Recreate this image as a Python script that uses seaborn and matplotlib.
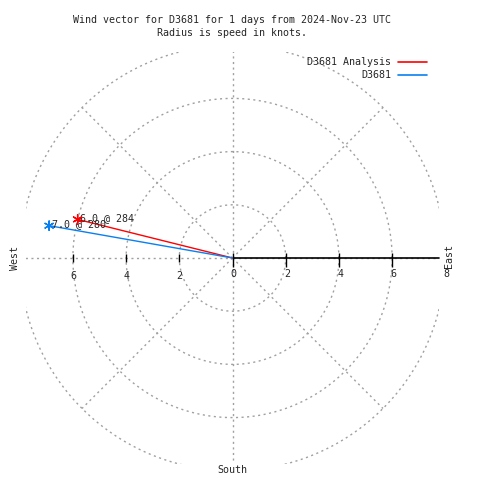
import numpy as np
import pandas as pd
import matplotlib
matplotlib.use("Agg")
import matplotlib.pyplot as plt
import seaborn as sns
from matplotlib.patches import Rectangle

# wind vectors (speed in knots, direction in degrees from north)
series = ["D3681 Analysis", "D3681"]
speed = [6.0, 7.0]
direction = [284, 280]
colors = ["#ff0000", "#0a80f0"]

ring_radii = [2, 4, 6, 8]
spoke_angles = [0, 45, 90, 135, 180, 225, 270, 315]
left_ticks = [-6, -4, -2]
left_labels = ["6", "4", "2"]
right_ticks = [0, 2, 4, 6, 8]
right_labels = ["0", "2", "4", "6", "8"]

sns.set_style("white")
plt.rcParams["font.family"] = ["DejaVu Sans Mono"]

# pixel layout: centre of the rose at (232.5, 258), 26.6 px per knot
px = 26.6
cx, cy = 232.5, 258
lim = 7.75

fig = plt.figure(figsize=(4.8, 4.8), dpi=100)
ax = fig.add_axes([0, 0, 1, 1])
ax.axis("off")

clip = Rectangle((-lim, -lim), 2 * lim, 2 * lim, transform=ax.transData)
grid_kw = dict(color="#a0a0a0", lw=1, dashes=(1.5, 2.5))

# rings and spokes
t = np.linspace(0, 2 * np.pi, 400)
for r in ring_radii:
    ln, = ax.plot(r * np.cos(t), r * np.sin(t), **grid_kw)
    ln.set_clip_path(clip)
rmax = ring_radii[-1]
for a in spoke_angles:
    ang = np.radians(a)
    ln, = ax.plot([0, rmax * np.cos(ang)], [0, rmax * np.sin(ang)], **grid_kw)
    ln.set_clip_path(clip)

# axis line and ticks
ax.plot([0, lim], [0, 0], color="black", lw=1.2)
ax.vlines(left_ticks, -0.15, 0.15, color="black", lw=1)
ax.vlines(right_ticks[:-1], -0.35, 0.18, color="black", lw=1)
for x, s in zip(left_ticks, left_labels):
    ax.text(x, -0.68, s, ha="center", va="center", fontsize=7.2)
for x, s in zip(right_ticks, right_labels):
    ax.text(x + 0.05, -0.62, s, ha="center", va="center", fontsize=7.2)

# vectors
rad = np.radians(direction)
ex = np.array(speed) * np.sin(rad)
ey = np.array(speed) * np.cos(rad)
vec = pd.DataFrame({
    "series": series + series,
    "x": [0, 0] + list(ex),
    "y": [0, 0] + list(ey),
})
ends = pd.DataFrame({"series": series, "x": ex, "y": ey})
pal = dict(zip(series, colors))
sns.lineplot(data=vec, x="x", y="y", hue="series", palette=pal, sort=False,
             estimator=None, lw=1, legend=False, ax=ax)
sns.scatterplot(data=ends, x="x", y="y", hue="series", palette=pal,
                marker=(6, 2, 0), s=45, linewidth=1, legend=False, ax=ax, zorder=5)
for x, y, s, d in zip(ex, ey, speed, direction):
    ax.text(x + 0.1, y + 0.05, f"{s:.1f} @ {d}", ha="left", va="center", fontsize=7.2)

ax.set_xlim(-cx / px, (480 - cx) / px)
ax.set_ylim((cy - 480) / px, cy / px)

# compass labels
fig.text(15 / 480, 1 - 258 / 480, "West", rotation=90, ha="center", va="center", fontsize=7.2)
fig.text(449 / 480, 1 - 256 / 480, "East", rotation=90, ha="center", va="center", fontsize=7.2)
fig.text(232 / 480, 1 - 470 / 480, "South", ha="center", va="center", fontsize=7.2)

# title
fig.text(232 / 480, 1 - 20 / 480, "Wind vector for D3681 for 1 days from 2024-Nov-23 UTC",
         ha="center", va="center", fontsize=7.2)
fig.text(232 / 480, 1 - 33 / 480, "Radius is speed in knots.",
         ha="center", va="center", fontsize=7.2)

# legend
for i, (s, c) in enumerate(zip(series, colors)):
    yy = 1 - (62 + 13 * i) / 480
    fig.text(391 / 480, yy, s, ha="right", va="center", fontsize=7.2)
    fig.add_artist(plt.Line2D([398 / 480, 427 / 480], [yy, yy], color=c, lw=1.2))

fig.savefig("out.png", dpi=100)
